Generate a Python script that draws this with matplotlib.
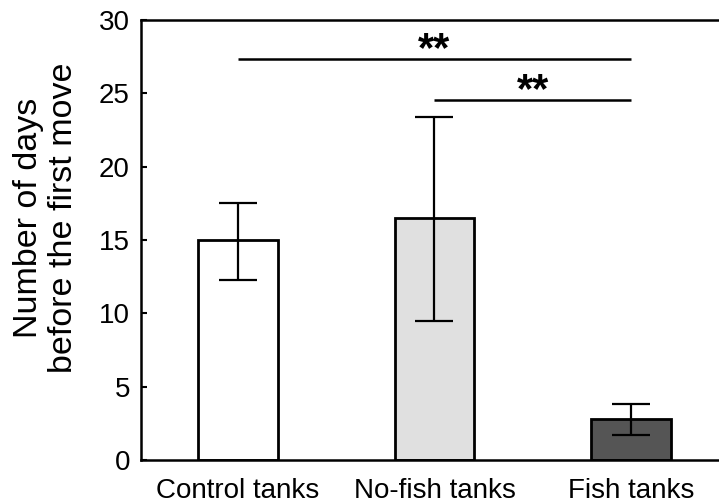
import matplotlib
matplotlib.use("Agg")
import matplotlib.pyplot as plt

plt.rcParams['font.family'] = ['Liberation Sans', 'DejaVu Sans']

categories = ["Control tanks", "No-fish tanks", "Fish tanks"]
means = [15.0, 16.5, 2.8]
err_low = [2.75, 7.0, 1.1]
err_high = [2.5, 6.9, 1.0]
colors = ["#ffffff", "#e0e0e0", "#555555"]
yticks = [0, 5, 10, 15, 20, 25, 30]
# significance brackets: (x_start, x_end, y, label)
sig_pairs = [(0, 2, 27.35, "**"), (1, 2, 24.55, "**")]

fig = plt.figure(figsize=(7.19, 5.04), dpi=100)
ax = fig.add_axes([141/719, 44/504, 587/719, 440/504])

x = list(range(len(categories)))
ax.bar(x, means, width=0.406, color=colors, edgecolor="black", linewidth=2.0, zorder=2)
ax.errorbar(x, means, yerr=[err_low, err_high], fmt="none", ecolor="black",
            elinewidth=1.6, capsize=14, capthick=1.6, zorder=3)

for x0, x1, y, lab in sig_pairs:
    ax.plot([x0, x1], [y, y], color="black", lw=1.8, solid_capstyle="butt", zorder=3)
    ax.text((x0 + x1) / 2, y - 0.75, lab, ha="center", va="bottom",
            fontsize=30, fontweight="bold")

ax.set_xlim(-0.49, 2.49)
ax.set_ylim(0, 30)
ax.set_yticks(yticks)
ax.set_xticks(x)
ax.set_xticklabels(categories)
ax.tick_params(axis="both", direction="in", length=4, width=1.5, labelsize=20)
ax.tick_params(axis="y", pad=8)
ax.tick_params(axis="x", pad=13)
ax.set_ylabel("Number of days\nbefore the first move", fontsize=24.5)
ax.yaxis.set_label_coords(-0.105, 0.55)

for s in ["left", "bottom", "top"]:
    ax.spines[s].set_linewidth(1.8)
ax.spines["right"].set_visible(False)

fig.savefig("out.png", dpi=100)
